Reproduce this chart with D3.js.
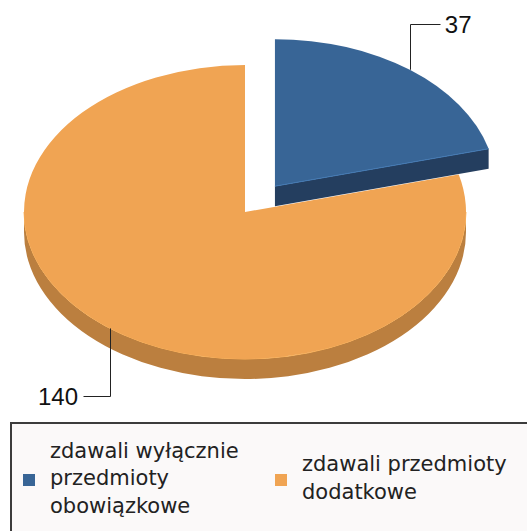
<!DOCTYPE html>
<html>
<head>
<meta charset="utf-8">
<script src="https://cdn.jsdelivr.net/npm/d3@7"></script>
<style>
html,body{margin:0;padding:0;background:#fff;}
svg{display:block;}
</style>
</head>
<body>
<svg id="chart" width="527" height="531"></svg>
<script>
// ---- data ----
const categories = ["zdawali wyłącznie przedmioty obowiązkowe", "zdawali przedmioty dodatkowe"];
const values = [37, 140];
const legendLines = [["zdawali wyłącznie", "przedmioty", "obowiązkowe"], ["zdawali przedmioty", "dodatkowe"]];
const topColors = ["#386596", "#f0a453"];
const sideColors = ["#243e5f", "#bb7f3f"];
const explode = [49, 0];

// ---- layout ----
const W = 527, H = 531;
const cx = 245, cy = 212, rx = 221, ry = 147, depth = 20;
const k = ry / rx;
const labelLevelY = [24, 396];
const labelArm = [30, 27];

const svg = d3.select("#chart");
const pie = d3.pie().sort(null).value(d => d)(values);

const arcTop = d3.arc().innerRadius(0).outerRadius(rx);
const h = depth / k;
const HALF = Math.PI / 2;

function sliceOffset(d, i) {
  const m = (d.startAngle + d.endAngle) / 2;
  return [explode[i] * Math.sin(m), -explode[i] * Math.cos(m) * k];
}

const order = pie.map((d, i) => i).sort((a, b) => explode[a] - explode[b]);

order.forEach(i => {
  const d = pie[i];
  const [dx, dy] = sliceOffset(d, i);
  const g = svg.append("g").attr("transform", `translate(${cx + dx},${cy + dy}) scale(1,${k})`);
  const s = d.startAngle, e = d.endAngle;

  // cut faces
  [[s, Math.sin(s) < -1e-6], [e, Math.sin(e) > 1e-6]].forEach(([a, vis]) => {
    if (!vis) return;
    const x = rx * Math.sin(a), y = -rx * Math.cos(a);
    const p = d3.path();
    p.moveTo(0, 0); p.lineTo(x, y); p.lineTo(x, y + h); p.lineTo(0, h); p.closePath();
    g.append("path").attr("d", p.toString()).attr("fill", sideColors[i]);
  });

  // outer wall (front half only)
  const w0 = Math.max(s, HALF), w1 = Math.min(e, 3 * HALF);
  if (w1 > w0) {
    const m0 = w0 - HALF, m1 = w1 - HALF;
    const p = d3.path();
    p.moveTo(rx * Math.cos(m0), rx * Math.sin(m0));
    p.arc(0, 0, rx, m0, m1, false);
    p.lineTo(rx * Math.cos(m1), rx * Math.sin(m1) + h);
    p.arc(0, h, rx, m1, m0, true);
    p.closePath();
    g.append("path").attr("d", p.toString()).attr("fill", sideColors[i]);
    // light rim
    const r = d3.path();
    r.moveTo(rx * Math.cos(m0), rx * Math.sin(m0));
    r.arc(0, 0, rx, m0, m1, false);
    g.append("path").attr("d", r.toString()).attr("fill", "none")
      .attr("stroke", d3.color(topColors[i]).brighter(0.3)).attr("stroke-width", 1)
      .attr("vector-effect", "non-scaling-stroke");
  }
  // top face
  g.append("path").attr("d", arcTop(d)).attr("fill", topColors[i]);
  if (Math.sin(e) > 1e-6) {
    g.append("line").attr("x1", 0).attr("y1", 0)
      .attr("x2", rx * Math.sin(e)).attr("y2", -rx * Math.cos(e))
      .attr("stroke", d3.color(topColors[i]).brighter(0.5)).attr("stroke-width", 1)
      .attr("vector-effect", "non-scaling-stroke");
  }
});

// labels with leader lines
pie.forEach((d, i) => {
  const [dx, dy] = sliceOffset(d, i);
  const m = (d.startAngle + d.endAngle) / 2;
  const px = cx + dx + rx * Math.sin(m);
  const py = cy + dy - ry * Math.cos(m);
  const ly = labelLevelY[i];
  const dir = Math.sin(m) >= 0 ? 1 : -1;
  const ex = px + dir * labelArm[i];
  const X = Math.round(px) + 0.5, Y = Math.round(ly) + 0.5;
  svg.append("path")
    .attr("d", `M${X},${py}L${X},${Y}L${Math.round(ex) + 0.5},${Y}`)
    .attr("fill", "none").attr("stroke", "#222").attr("stroke-width", 1);
  svg.append("text")
    .attr("x", ex + dir * 5).attr("y", ly).attr("dy", "0.36em")
    .attr("text-anchor", dir > 0 ? "start" : "end")
    .attr("font-family", "'Liberation Sans', Arial, sans-serif")
    .attr("font-size", 24).attr("fill", "#111")
    .text(values[i]);
});

// legend
svg.append("rect").attr("x", 11).attr("y", 423).attr("width", 600).attr("height", 200)
  .attr("fill", "#fbf9f9").attr("stroke", "#3c3c3c").attr("stroke-width", 2);

const legendX = [23, 275];
const legendCY = 480;
const lineGap = 27.5;
categories.forEach((c, i) => {
  const g = svg.append("g");
  g.append("rect").attr("x", legendX[i]).attr("y", legendCY - 6).attr("width", 12).attr("height", 12)
    .attr("fill", topColors[i]);
  const lines = legendLines[i];
  const t = g.append("text")
    .attr("font-family", "'DejaVu Sans', sans-serif").attr("font-size", 21).attr("fill", "#222");
  lines.forEach((ln, j) => {
    t.append("tspan").attr("x", legendX[i] + 27)
      .attr("y", legendCY + (j - (lines.length - 1) / 2) * lineGap + 5)
      .text(ln);
  });
});
</script>
</body>
</html>
